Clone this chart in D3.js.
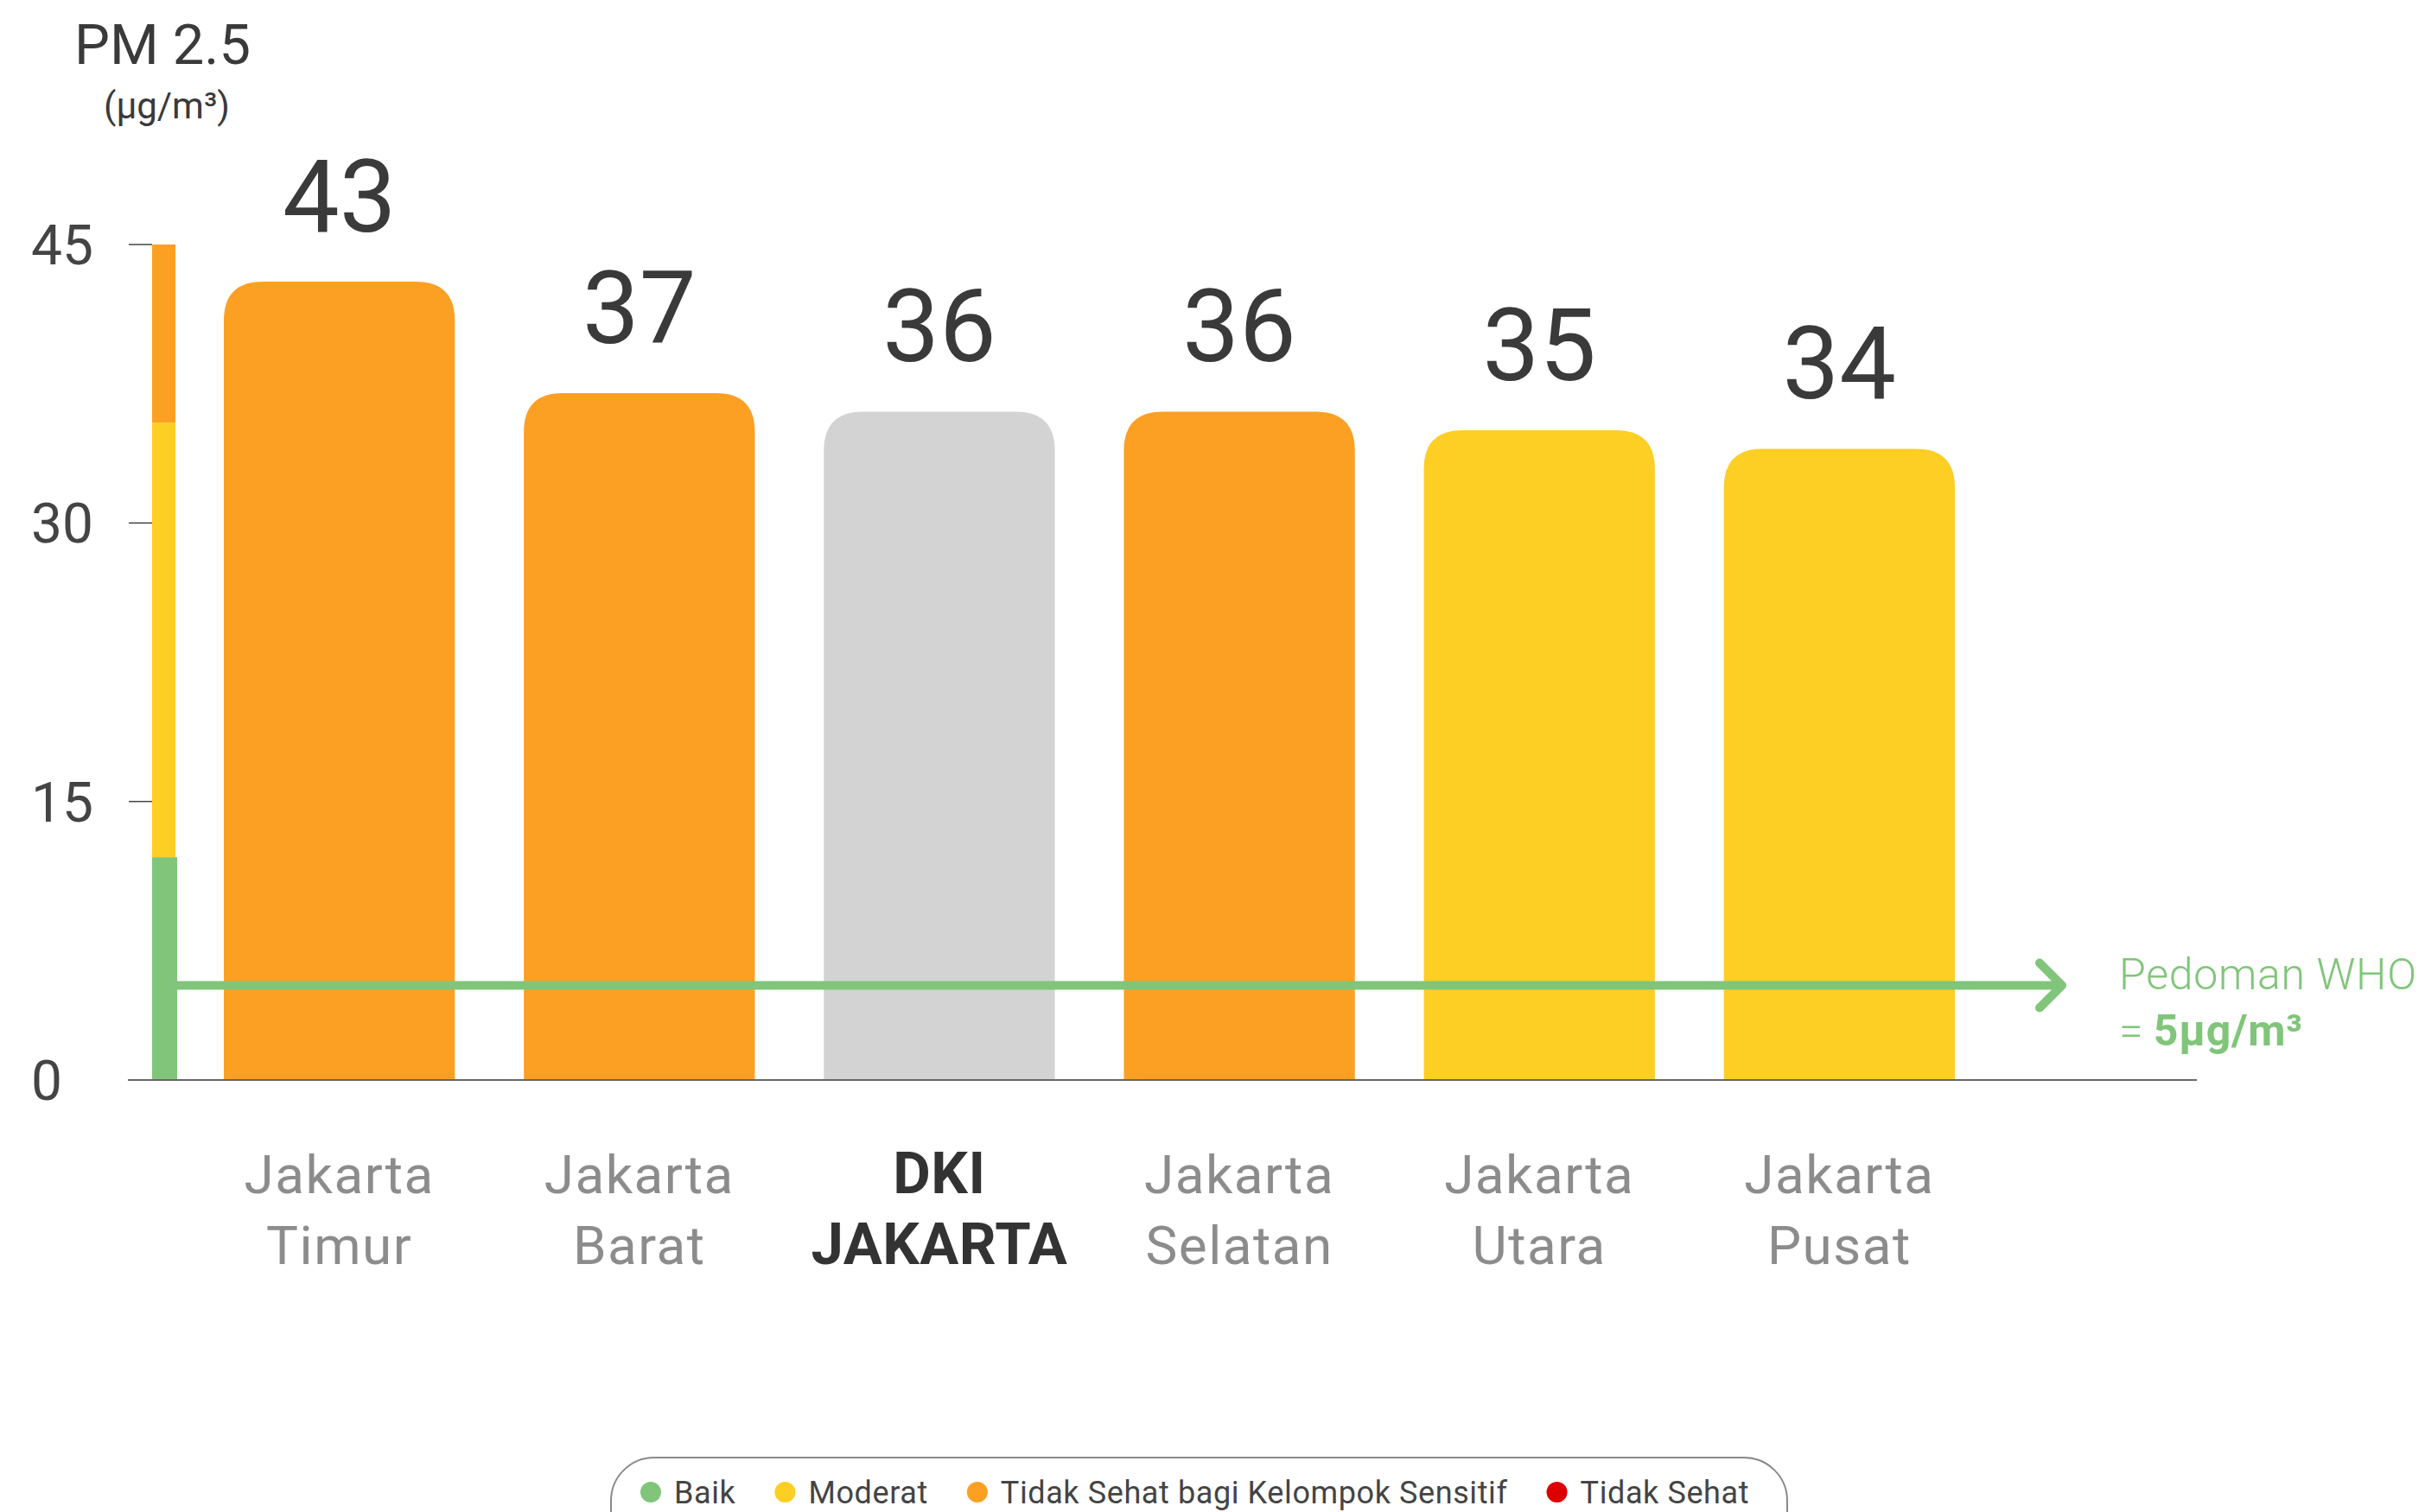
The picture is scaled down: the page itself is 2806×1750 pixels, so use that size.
<!DOCTYPE html>
<html>
<head>
<meta charset="utf-8">
<script src="https://cdn.jsdelivr.net/npm/d3@7"></script>
<style>
  html, body { margin: 0; padding: 0; background: #fff; }
  svg { display: block; font-family: Roboto, "Noto Sans", sans-serif; }
</style>
</head>
<body>
<svg id="chart" width="2806" height="1750"></svg>
<script>
// Data
const categories = [
  ['Jakarta', 'Timur'],
  ['Jakarta', 'Barat'],
  ['DKI', 'JAKARTA'],
  ['Jakarta', 'Selatan'],
  ['Jakarta', 'Utara'],
  ['Jakarta', 'Pusat']
];
const values = [43, 37, 36, 36, 35, 34];
const highlight = 'DKI JAKARTA';
const yTicks = [0, 15, 30, 45];
const whoGuideline = 5;

// AQI bands for PM 2.5
const bandBreaks = [0, 12, 35.4, 45];
const legendLabels = ['Baik', 'Moderat', 'Tidak Sehat bagi Kelompok Sensitif', 'Tidak Sehat'];
const legendColors = ['#80c57a', '#fdce24', '#fca023', '#dd0000'];
const highlightColor = '#d3d3d3';

const svg = d3.select('#chart');
const names = categories.map(c => c.join(' '));

const x = d3.scaleBand()
  .domain(names)
  .range([259, 2262])
  .paddingInner(0.23)
  .paddingOuter(0);

const y = d3.scaleLinear()
  .domain([0, 45])
  .range([1250, 283]);

const level = d3.scaleThreshold()
  .domain([12.05, 35.45, 55.45])
  .range(legendColors);

// Axis title
svg.append('text')
  .attr('x', 188).attr('y', 74)
  .attr('text-anchor', 'middle')
  .attr('font-size', 65)
  .attr('fill', '#3a3a3a')
  .text('PM 2.5');
svg.append('text')
  .attr('x', 193).attr('y', 137)
  .attr('text-anchor', 'middle')
  .attr('font-size', 42)
  .attr('fill', '#3a3a3a')
  .text('(µg/m³)');

// Y axis: ticks and labels
const yAxis = svg.append('g');
yAxis.selectAll('line')
  .data(yTicks)
  .join('line')
  .attr('x1', 149).attr('x2', 176)
  .attr('y1', d => y(d)).attr('y2', d => y(d))
  .attr('stroke', '#444')
  .attr('stroke-width', 1.5);
yAxis.selectAll('text')
  .data(yTicks)
  .join('text')
  .attr('x', 36)
  .attr('y', d => y(d))
  .attr('dy', '0.36em')
  .attr('font-size', 64)
  .attr('fill', '#444')
  .text(d => d);

// Colour band along the axis
const bands = bandBreaks.slice(0, -1).map((b, i) => ({ lo: b, hi: bandBreaks[i + 1], color: legendColors[i] }));
svg.append('g')
  .selectAll('rect')
  .data(bands)
  .join('rect')
  .attr('x', 176)
  .attr('width', (d, i) => i === 0 ? 29 : 27)
  .attr('y', d => y(d.hi))
  .attr('height', d => y(d.lo) - y(d.hi))
  .attr('fill', d => d.color);

// Bars with rounded tops
const r = 45;
function barPath(x0, w, top, bottom) {
  return `M${x0},${bottom}V${top + r}Q${x0},${top} ${x0 + r},${top}` +
    `H${x0 + w - r}Q${x0 + w},${top} ${x0 + w},${top + r}V${bottom}Z`;
}
const bars = names.map((n, i) => ({ name: n, lines: categories[i], value: values[i] }));
svg.append('g')
  .selectAll('path')
  .data(bars)
  .join('path')
  .attr('d', d => barPath(x(d.name), x.bandwidth(), y(d.value), y(0)))
  .attr('fill', d => d.name === highlight ? highlightColor : level(d.value));

// Value labels
svg.append('g')
  .selectAll('text')
  .data(bars)
  .join('text')
  .attr('x', d => x(d.name) + x.bandwidth() / 2)
  .attr('y', d => y(d.value) - 58)
  .attr('text-anchor', 'middle')
  .attr('font-size', 117)
  .attr('fill', '#3a3a3a')
  .text(d => d.value);

// Baseline
svg.append('line')
  .attr('x1', 148).attr('x2', 2542)
  .attr('y1', y(0)).attr('y2', y(0))
  .attr('stroke', '#666')
  .attr('stroke-width', 2);

// Category labels
const catGroup = svg.append('g')
  .selectAll('text')
  .data(bars)
  .join('text')
  .attr('text-anchor', 'middle')
  .attr('font-size', d => d.name === highlight ? 67 : 62)
  .attr('font-weight', d => d.name === highlight ? 700 : 400)
  .attr('letter-spacing', d => d.name === highlight ? 0.5 : 1.5)
  .attr('fill', d => d.name === highlight ? '#333' : '#8c8c8c');
catGroup.selectAll('tspan')
  .data(d => d.lines.map((t, i) => ({ t, i, cx: x(d.name) + x.bandwidth() / 2 })))
  .join('tspan')
  .attr('x', d => d.cx)
  .attr('y', d => y(0) + 131 + d.i * 82)
  .text(d => d.t);

// WHO guideline arrow
const green = legendColors[0];
const wy = y(whoGuideline) - 2;
svg.append('line')
  .attr('x1', 205).attr('x2', 2383)
  .attr('y1', wy).attr('y2', wy)
  .attr('stroke', green)
  .attr('stroke-width', 10);
svg.append('path')
  .attr('d', `M2360,${wy - 26}L2386,${wy}L2360,${wy + 26}`)
  .attr('fill', 'none')
  .attr('stroke', green)
  .attr('stroke-width', 10)
  .attr('stroke-linecap', 'round')
  .attr('stroke-linejoin', 'round');

const who = svg.append('g').attr('fill', green).attr('font-size', 50);
who.append('text')
  .attr('x', 2452).attr('y', 1145)
  .attr('font-weight', 300)
  .attr('letter-spacing', 0.7)
  .text('Pedoman WHO');
const who2 = who.append('text').attr('x', 2452).attr('y', 1210);
who2.append('tspan').attr('font-weight', 300).text('= ');
who2.append('tspan').attr('font-weight', 700).attr('letter-spacing', 0.7).text(`${whoGuideline}µg/m³`);

// Legend
const legend = svg.append('g');
legend.append('rect')
  .attr('x', 707).attr('y', 1687)
  .attr('width', 1361).attr('height', 130)
  .attr('rx', 50)
  .attr('fill', 'none')
  .attr('stroke', '#8a8a8a')
  .attr('stroke-width', 2);
let cx = 753;
legendLabels.forEach((label, i) => {
  legend.append('circle')
    .attr('cx', cx).attr('cy', 1727)
    .attr('r', 12)
    .attr('fill', legendColors[i]);
  const t = legend.append('text')
    .attr('x', cx + 27).attr('y', 1740)
    .attr('font-size', 36)
    .attr('letter-spacing', 0.6)
    .attr('fill', '#444')
    .text(label);
  cx += 27 + t.node().getComputedTextLength() + 57;
});
</script>
</body>
</html>
